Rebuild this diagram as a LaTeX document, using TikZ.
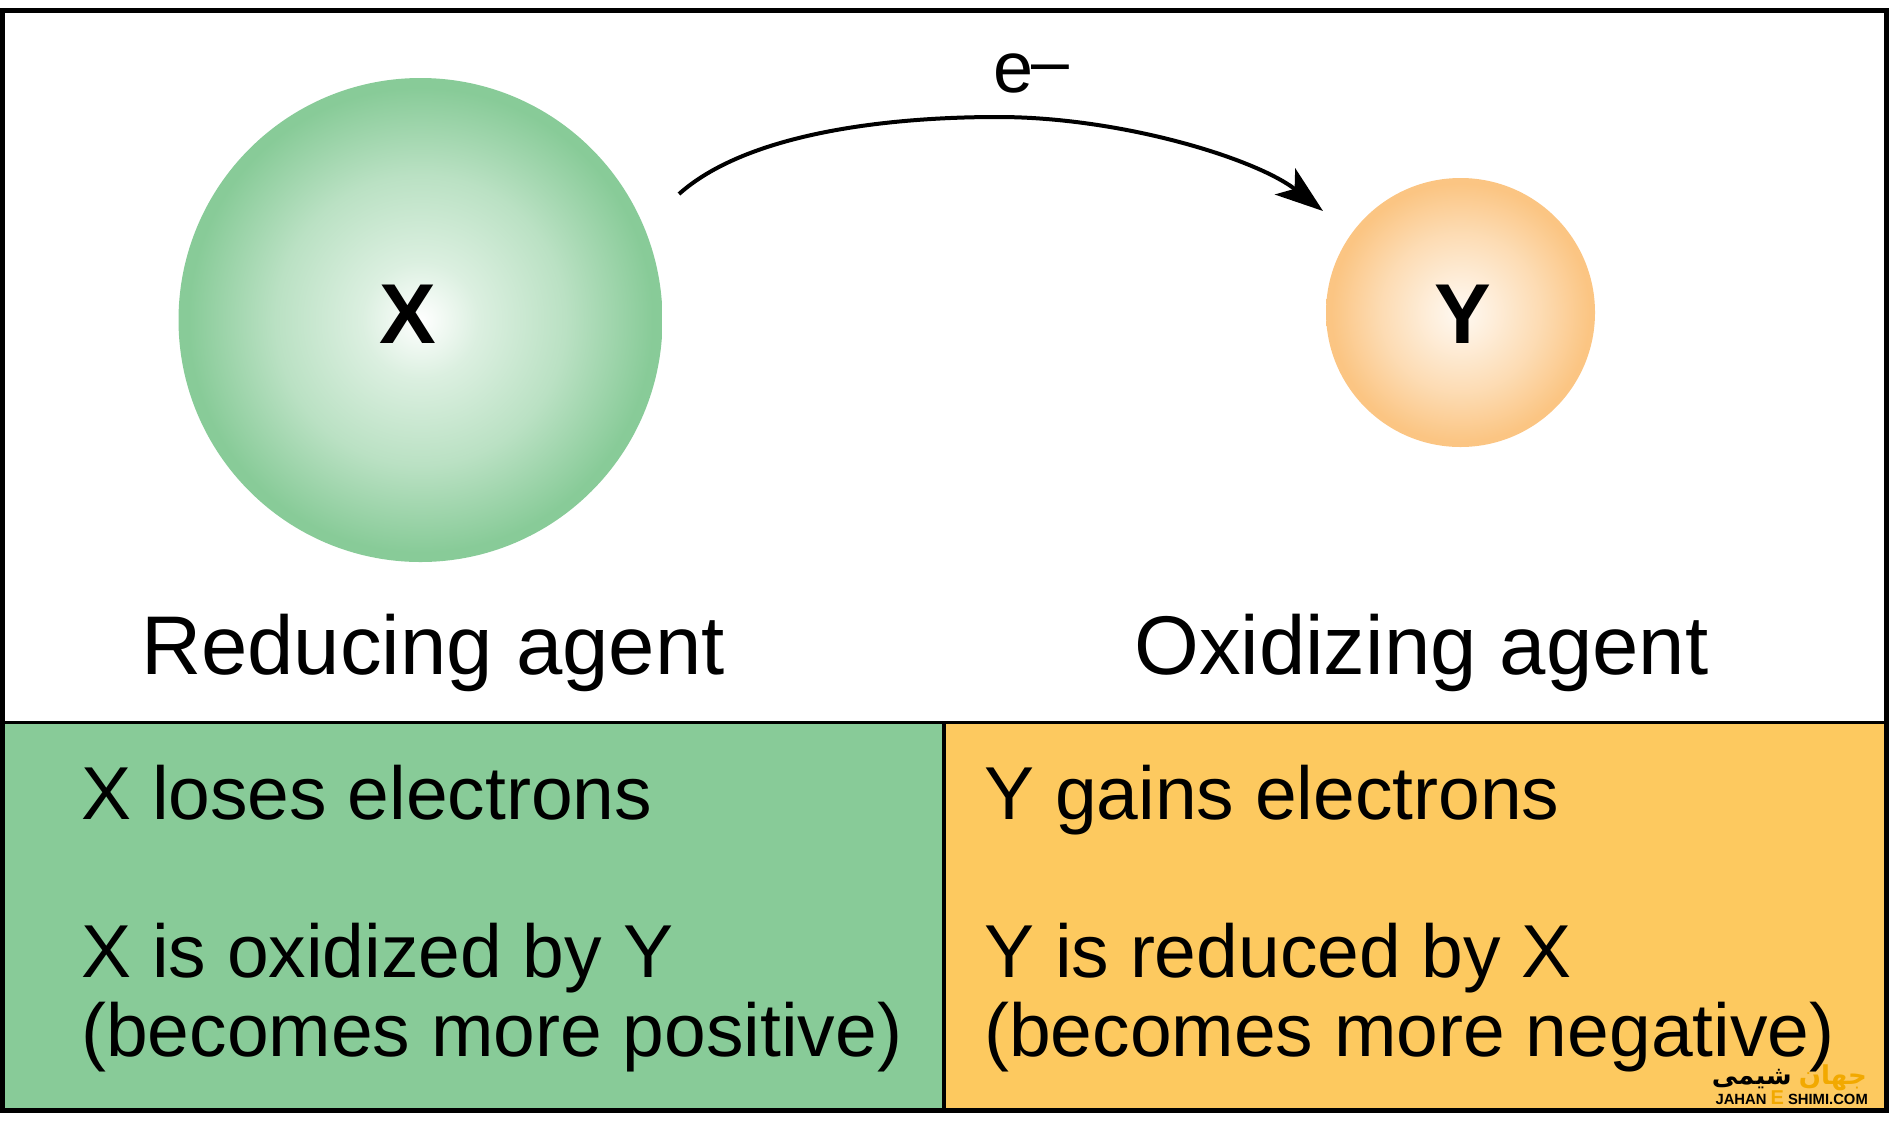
\documentclass[tikz,border=0pt]{standalone}
\usepackage{fontspec}
\setmainfont{Liberation Sans}
\newfontfamily\arabicfont[Script=Arabic]{DejaVu Sans}
\TeXXeTstate=1
\usetikzlibrary{arrows.meta}
\definecolor{agentgreen}{HTML}{88CB98}
\definecolor{agentorange}{HTML}{FDC95F}
\definecolor{ballorange}{HTML}{FBC583}
\definecolor{markorange}{HTML}{F2A900}
\pgfdeclareradialshading{ballgreen}{\pgfpoint{0bp}{0bp}}{color(0bp)=(white); color(2bp)=(white!90!agentgreen); color(6bp)=(white!70!agentgreen); color(15bp)=(white!42!agentgreen); color(24bp)=(agentgreen); color(50bp)=(agentgreen)}
\pgfdeclareradialshading{ballorange}{\pgfpoint{0bp}{0bp}}{color(0bp)=(white!90!ballorange); color(6bp)=(white!70!ballorange); color(15bp)=(white!38!ballorange); color(24bp)=(ballorange); color(50bp)=(ballorange)}
\tikzset{
  ball/.style={circle,inner sep=0pt},
  ballname/.style={font=\bfseries\fontsize{85}{85}\selectfont},
  agentname/.style={font=\fontsize{83.3}{84}\selectfont,anchor=base west,inner sep=0pt},
  panel/.style={draw=black,line width=3.5pt,minimum height=387pt,inner sep=0pt},
  panelline/.style={font=\fontsize{75}{75}\selectfont,anchor=base west,inner sep=0pt},
  markline/.style={anchor=base east,inner sep=0pt},
  markfarsi/.style={markline,font=\arabicfont\bfseries\fontsize{26}{26}\selectfont}
}
\begin{document}
\begin{tikzpicture}[x=1pt,y=-1pt]
  \useasboundingbox (0,0) rectangle (1894,1120);

  % panels
  \node[panel,fill=agentgreen,minimum width=942pt] (leftpanel) at (473,916) {};
  \node[panel,fill=agentorange,minimum width=943pt] (rightpanel) at (1415.5,916) {};
  \node[draw=black,line width=5pt,minimum width=1884.5pt,minimum height=1099.5pt,inner sep=0pt] (frame) at (944.7,560.7) {};

  \node[ball,shading=ballgreen,minimum size=484pt] (xball) at (420.5,320) {};
  \node[ball,shading=ballorange,minimum size=269pt] (yball) at (1460.5,312.5) {};
  \node[ballname] (xname) at (408,314) {X};
  \node[ballname] (yname) at (1463,314) {Y};

  % electron
  \coordinate (estart) at (679,194);
  \coordinate (etop) at (998,117);
  \coordinate (eend) at (1323,211);
  \draw[line width=4pt,-{Stealth[length=48pt,width=33pt,inset=12pt]}] (estart)
    .. controls (745,135) and (880,117) .. (etop)
    .. controls (1120,117) and (1255,158) .. (eend);
  \node[font=\fontsize{72}{72}\selectfont,anchor=base west,inner sep=0pt] (elabel) at (993,92) {e\kern-2pt\raisebox{8pt}{\fontsize{68}{68}\selectfont –}};

  \node[agentname] (xagent) at (141,674) {Reducing agent};
  \node[agentname] (yagent) at (1134,674) {Oxidizing agent};

  \node[panelline] (xloses) at (81,819) {X loses electrons};
  \node[panelline] (xoxid) at (81,977) {X is oxidized by Y};
  \node[panelline] (xpos) at (81,1056) {(becomes more positive)};
  \node[panelline] (ygains) at (984,819) {Y gains electrons};
  \node[panelline] (yred) at (984,977) {Y is reduced by X};
  \node[panelline] (yneg) at (984,1056) {(becomes more negative)};

  % site mark
  \node[markfarsi,text=markorange] (markjahan) at (1867,1084) {\beginR جهان\endR};
  \node[markfarsi] (markshimi) at (1792,1084) {\beginR شیمی\endR};
  \node[markline,font=\bfseries\fontsize{14.8}{14.8}\selectfont] (markla) at (1868,1104) {JAHAN {\fontsize{20}{20}\selectfont\color{markorange}E} SHIMI.COM};
\end{tikzpicture}
\end{document}
